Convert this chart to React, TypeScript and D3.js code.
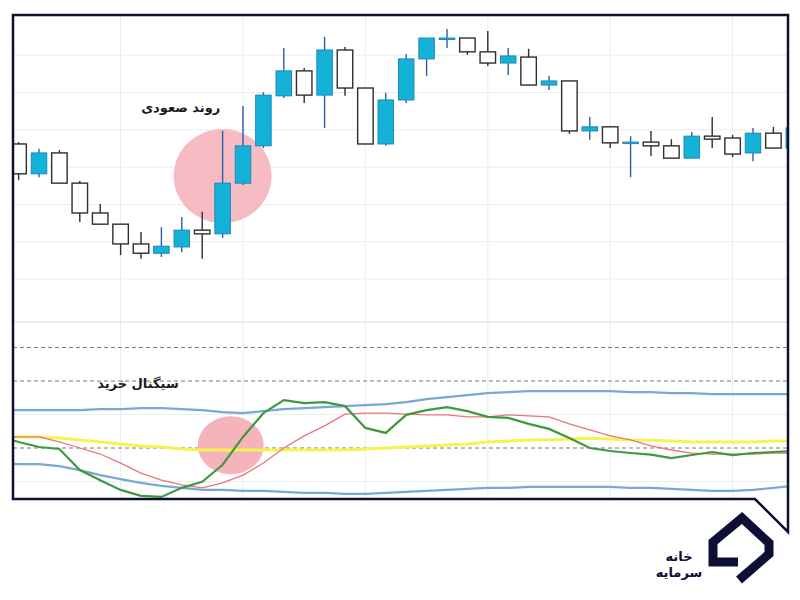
import React from "react";
import * as d3 from "d3";

// ---- Candles (price units) ----
const candleOpen = [1036.2, 1028.2, 1033.8, 1025.7, 1017.7, 1014.7, 1009.4, 1006.9, 1008.6, 1013.1, 1012.1, 1025.7, 1035.7, 1049.1, 1055.8, 1049.3, 1061.4, 1051.2, 1036.2, 1048.0, 1059.0, 1064.6, 1064.6, 1060.9, 1057.9, 1059.5, 1052.0, 1053.1, 1039.7, 1040.8, 1036.7, 1036.7, 1035.7, 1032.4, 1038.3, 1037.8, 1033.8, 1039.1, 1035.1];
const candleHigh = [1036.7, 1034.9, 1034.6, 1026.3, 1020.1, 1014.7, 1012.6, 1013.9, 1016.6, 1018.0, 1039.7, 1046.4, 1050.1, 1061.9, 1056.6, 1064.9, 1062.2, 1051.2, 1049.9, 1060.3, 1064.6, 1067.0, 1064.6, 1066.5, 1061.9, 1061.7, 1054.4, 1053.1, 1043.4, 1040.8, 1038.3, 1039.7, 1037.5, 1039.4, 1043.4, 1038.6, 1040.5, 1040.8, 1041.3];
const candleLow = [1026.5, 1027.3, 1025.7, 1015.3, 1014.7, 1006.4, 1005.4, 1005.9, 1007.2, 1005.4, 1011.0, 1025.2, 1035.1, 1048.5, 1047.2, 1040.5, 1049.1, 1036.2, 1035.7, 1047.2, 1054.4, 1061.9, 1060.1, 1057.1, 1054.7, 1052.0, 1050.7, 1038.9, 1037.3, 1035.1, 1027.3, 1033.0, 1032.4, 1032.4, 1035.1, 1032.7, 1031.6, 1035.1, 1034.6];
const candleClose = [1028.2, 1033.8, 1025.7, 1017.7, 1014.7, 1009.4, 1006.9, 1008.8, 1013.1, 1012.1, 1025.7, 1035.7, 1049.3, 1055.8, 1049.3, 1061.4, 1051.2, 1036.2, 1048.0, 1059.0, 1064.6, 1064.6, 1060.9, 1057.9, 1059.8, 1052.0, 1053.1, 1039.7, 1040.8, 1036.5, 1036.7, 1035.7, 1032.4, 1038.3, 1037.5, 1033.5, 1039.1, 1035.1, 1040.5];
const priceGrid = [1000, 1010, 1020, 1030, 1040, 1050, 1060];
const timeGrid = [5, 11, 17, 23, 29, 35];

// ---- Indicator (first value is the bar before the first visible candle) ----
const oscLine = [53.5, 51.8, 50.3, 49.7, 43.4, 40.4, 37.5, 35.7, 35.4, 38.1, 39.9, 45.0, 53.3, 60.4, 64.3, 63.4, 63.7, 62.5, 56.0, 54.5, 59.9, 61.3, 62.2, 61.0, 59.3, 59.0, 57.2, 55.7, 53.0, 50.0, 49.1, 48.5, 48.0, 47.0, 47.9, 48.8, 47.9, 48.5, 48.8, 49.1];
const signalLine = [53.3, 53.3, 53.3, 51.8, 50.0, 48.2, 45.5, 42.5, 40.4, 39.0, 38.1, 39.6, 41.9, 45.5, 50.0, 53.6, 56.6, 60.1, 60.4, 60.4, 60.1, 59.9, 59.9, 59.3, 59.3, 59.9, 59.6, 59.3, 57.2, 55.4, 53.6, 52.4, 50.6, 49.4, 48.5, 48.2, 48.2, 48.2, 48.5, 48.5];
const upperBand = [61.3, 61.3, 61.3, 61.3, 61.3, 61.6, 61.6, 61.9, 61.9, 61.6, 61.3, 60.7, 60.4, 61.0, 61.6, 61.9, 62.2, 62.5, 62.8, 63.1, 63.7, 64.6, 65.2, 65.8, 66.4, 66.7, 67.0, 67.0, 67.0, 67.0, 67.0, 66.7, 66.7, 66.4, 66.4, 66.1, 66.1, 66.1, 66.1, 66.1];
const lowerBand = [45.4, 45.2, 45.2, 44.6, 43.4, 41.9, 40.7, 39.6, 38.7, 38.1, 37.5, 37.5, 37.2, 37.2, 36.9, 36.6, 36.6, 36.3, 36.3, 36.6, 36.9, 37.2, 37.5, 37.8, 38.1, 38.1, 38.4, 38.4, 38.4, 38.4, 38.4, 38.1, 38.1, 37.8, 37.5, 37.2, 37.2, 37.5, 38.1, 38.7];
const middleLine = [53.3, 53.3, 53.3, 53.0, 52.4, 51.8, 51.2, 50.6, 50.3, 49.7, 49.4, 49.4, 49.4, 49.4, 49.4, 49.4, 49.4, 49.4, 49.7, 50.0, 50.3, 50.6, 50.9, 51.2, 51.8, 52.1, 52.4, 52.5, 52.7, 52.9, 52.7, 52.4, 52.3, 52.1, 51.8, 51.8, 51.8, 51.8, 52.1, 52.1];
const dashedLevels = [80, 70, 50];
const solidLevels = [60, 40];

const label1 = "روند صعودی";
const label2 = "سیگنال خرید";
const logoLine1 = "خانه";
const logoLine2 = "سرمایه";

export default function App() {
  const left = 13, right = 788, top = 15, bottom = 499, paneSplit = 322;
  const x = d3.scaleLinear().domain([0, 1]).range([18.6, 39.0]);
  const yP = d3.scaleLinear().domain([1000, 1060]).range([279, 55.2]);
  const yI = d3.scaleLinear().domain([50, 70]).range([448, 381]);
  const bodyW = 15.5;

  const lineGen = (arr: number[]) =>
    d3.line<number>().x((_, i) => x(i - 1)).y((v) => yI(v))(arr) || "";

  const blueFill = "#14b2d6";
  const blueStroke = "#1d86bd";
  const blueWick = "#2d5ea8";
  const darkStroke = "#2e2e2e";
  const navy = "#0e0f35";

  const font = "'DejaVu Sans', sans-serif";

  return (
    <svg width={800} height={600} style={{ position: "absolute", left: 0, top: 0, background: "#fff" }}>
      <defs>
        <clipPath id="plotClip">
          <rect x={left} y={top} width={right - left} height={bottom - top} />
        </clipPath>
      </defs>
      <rect x={0} y={0} width={800} height={600} fill="#fff" />
      <g clipPath="url(#plotClip)">
        {/* grid */}
        {priceGrid.map((p) => (
          <line key={"pg" + p} x1={left} x2={right} y1={yP(p)} y2={yP(p)} stroke="#ececec" strokeWidth={1} />
        ))}
        {timeGrid.map((t) => (
          <line key={"tg" + t} x1={x(t)} x2={x(t)} y1={top} y2={bottom} stroke="#ececec" strokeWidth={1} />
        ))}
        <line x1={left} x2={right} y1={paneSplit} y2={paneSplit} stroke="#dcdcdc" strokeWidth={1} />
        {solidLevels.map((v) => (
          <line key={"sl" + v} x1={left} x2={right} y1={yI(v)} y2={yI(v)} stroke="#ececec" strokeWidth={1} />
        ))}
        {dashedLevels.map((v) => (
          <line key={"dl" + v} x1={left} x2={right} y1={yI(v)} y2={yI(v)} stroke="#7a7a7a" strokeWidth={1} strokeDasharray="4,3" />
        ))}

        {/* highlight annotations */}
        <ellipse cx={x(10)} cy={yP(1027.6)} rx={49} ry={47} fill="#f7bcc3" />
        <ellipse cx={x(10.4)} cy={yI(50.8)} rx={33} ry={29} fill="#f5b3bc" />

        {/* candles */}
        {candleOpen.map((o, i) => {
          const c = candleClose[i];
          const up = c >= o;
          const yTop = yP(Math.max(o, c));
          const yBot = yP(Math.min(o, c));
          const h = Math.max(yBot - yTop, 1.5);
          const cx = x(i);
          return (
            <g key={"c" + i}>
              <line x1={cx} x2={cx} y1={yP(candleHigh[i])} y2={yP(candleLow[i])} stroke={up ? blueWick : darkStroke} strokeWidth={1.4} />
              <rect
                x={cx - bodyW / 2}
                y={yTop}
                width={bodyW}
                height={h}
                fill={up ? blueFill : "#ffffff"}
                stroke={up ? blueStroke : darkStroke}
                strokeWidth={up ? 1 : 1.4}
              />
            </g>
          );
        })}

        {/* indicator lines */}
        <path d={lineGen(upperBand)} fill="none" stroke="#78a9d4" strokeWidth={2.2} />
        <path d={lineGen(lowerBand)} fill="none" stroke="#78a9d4" strokeWidth={2.2} />
        <path d={lineGen(middleLine)} fill="none" stroke="#f6f34f" strokeWidth={3} />
        <path d={lineGen(signalLine)} fill="none" stroke="#e6777a" strokeWidth={1.3} />
        <path d={lineGen(oscLine)} fill="none" stroke="#3f9a3f" strokeWidth={2.2} />
      </g>

      {/* labels */}
      <text x={x(7.95)} y={yP(1045.6)} textAnchor="middle" dominantBaseline="middle" fontFamily={font} fontWeight="bold" fontSize={13} fill="#1a1a1a">
        {label1}
      </text>
      <text x={x(5.85)} y={yI(69.1)} textAnchor="middle" dominantBaseline="middle" fontFamily={font} fontWeight="bold" fontSize={13} fill="#1a1a1a">
        {label2}
      </text>

      {/* frame */}
      <path
        d={`M${left},${top} H${right} V532 L755,${bottom} H${left} Z`}
        fill="none"
        stroke={navy}
        strokeWidth={2.5}
      />

      {/* logo */}
      <path
        d="M738,562 L713,562 L713,542 L742,518 L769,543 L769,554 L739,580"
        fill="none"
        stroke={navy}
        strokeWidth={9}
        strokeLinejoin="miter"
      />
      <text x={703} y={557} textAnchor="middle" dominantBaseline="middle" fontFamily={font} fontWeight="bold" fontSize={13} fill={navy} transform="translate(-24,0)">
        {logoLine1}
      </text>
      <text x={703} y={573} textAnchor="middle" dominantBaseline="middle" fontFamily={font} fontWeight="bold" fontSize={13} fill={navy} transform="translate(-24,0)">
        {logoLine2}
      </text>
    </svg>
  );
}
